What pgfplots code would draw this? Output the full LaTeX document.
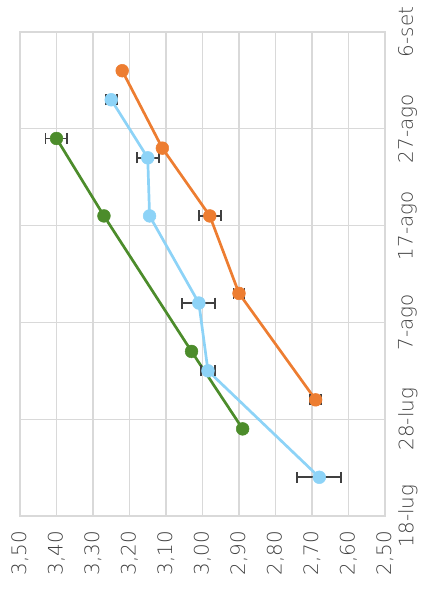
\documentclass[border=0pt]{standalone}
\usepackage{fontspec}
\setmainfont{DejaVu Sans ExtraLight}
\usepackage{pgfplots}
\pgfplotsset{compat=1.18}
\definecolor{cor}{HTML}{ED7D31}
\definecolor{cbl}{HTML}{8DD3F7}
\definecolor{cgr}{HTML}{4C8C2B}
\definecolor{cgrid}{HTML}{D9D9D9}
\definecolor{caxis}{HTML}{BFBFBF}
\definecolor{ctxt}{HTML}{404040}
\definecolor{cerr}{HTML}{404040}
\begin{document}
\begin{tikzpicture}[x=1bp,y=1bp]
\useasboundingbox (-20,-82) rectangle (404,516);
\begin{axis}[at={(0,0)}, anchor=south west, scale only axis,
  width=365bp, height=484bp,
  xmin=2.5, xmax=3.5, x dir=reverse, ymin=0, ymax=50,
  xtick={2.5,2.6,2.7,2.8,2.9,3.0,3.1,3.2,3.3,3.4,3.5},
  ytick={0,10,20,30,40,50},
  yticklabels={18-lug,28-lug,7-ago,17-ago,27-ago,6-set},
  grid=major, major grid style={cgrid, line width=1.2bp},
  axis line style={draw=cgrid, line width=1.2bp},
  tick style={draw=none},
  xticklabel style={rotate=90, anchor=east, inner xsep=15bp, font=\fontsize{20}{20}\selectfont, text=ctxt,
    /pgf/number format/.cd, fixed, fixed zerofill, precision=2, use comma, assume math mode=true},
  yticklabel pos=right,
  yticklabel style={rotate=90, anchor=north, inner ysep=13bp, font=\fontsize{20}{20}\selectfont, text=ctxt},
  every axis plot/.append style={line width=2.7bp, mark=*, mark size=6.4bp},
  error bars/error bar style={cerr, line width=1.9bp},
  error bars/error mark options={cerr, line width=1.9bp, mark size=5.5bp, rotate=90},
]
\addplot[cgr, mark options={fill=cgr, line width=0.5bp},
  error bars/.cd, x dir=both, x explicit] coordinates {
  (2.89,9) +- (0,0)
  (3.03,17) +- (0,0)
  (3.27,31) +- (0,0)
  (3.40,39) +- (0.03,0)
};
\addplot[cor, mark options={fill=cor, line width=0.5bp},
  error bars/.cd, x dir=both, x explicit] coordinates {
  (2.69,12) +- (0.015,0)
  (2.90,23) +- (0.015,0)
  (2.98,31) +- (0.03,0)
  (3.11,38) +- (0,0)
  (3.22,46) +- (0,0)
};
\addplot[cbl, mark options={fill=cbl, line width=0.5bp},
  error bars/.cd, x dir=both, x explicit] coordinates {
  (2.68,4) +- (0.06,0)
  (2.985,15) +- (0.02,0)
  (3.01,22) +- (0.045,0)
  (3.145,31) +- (0,0)
  (3.15,37) +- (0.03,0)
  (3.25,43) +- (0.015,0)
};
\end{axis}
\end{tikzpicture}
\end{document}
